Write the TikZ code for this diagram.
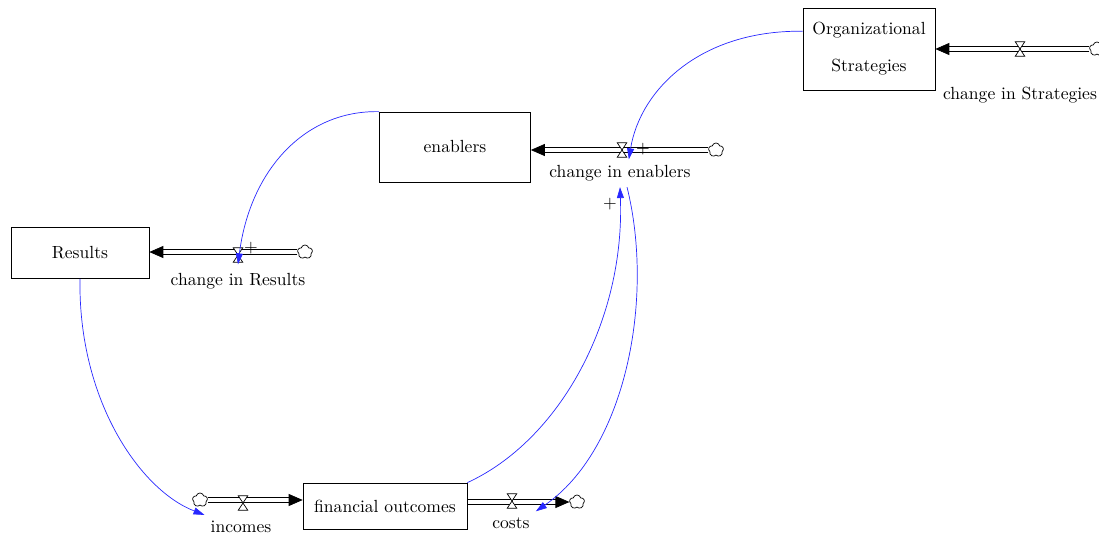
\documentclass[tikz,border=0pt]{standalone}
\usepackage{tikz}
\usetikzlibrary{positioning, shapes.symbols, arrows.meta, calc}
\definecolor{LinkBlue}{RGB}{40, 40, 255}

\begin{document}
\begin{tikzpicture}[
    x=0.02cm, y=-0.02cm,
    stock/.style={rectangle, draw, inner sep=2pt, align=center},
    source/.style={cloud, draw, fill=white, cloud puffs=5, cloud puff arc=150, aspect=1, minimum width=0.3cm, minimum height=0.28cm, inner sep=0pt},
    pipe/.style={draw, double=white, double distance=0.09cm, line width=0.4pt, -{Triangle[length=0.28cm, width=0.24cm]}},
    valve/.style={rectangle, inner sep=0pt, minimum width=0.26cm, minimum height=0.36cm,
      path picture={\filldraw[fill=white, line width=0.4pt]
        ([shift={(1pt,-1pt)}]path picture bounding box.north west) --
        ([shift={(-1pt,-1pt)}]path picture bounding box.north east) --
        ([shift={(1pt,1pt)}]path picture bounding box.south west) --
        ([shift={(-1pt,1pt)}]path picture bounding box.south east) -- cycle;}},
    link/.style={draw=LinkBlue, line width=0.4pt, -{Triangle[length=0.22cm, width=0.14cm]}, LinkBlue}
  ]
    \useasboundingbox (0,0) rectangle (1099,537);

    % Stocks
    \node[stock, minimum width=2.64cm, minimum height=1.64cm] (org) at (869, 49) {Organizational\\[9pt]Strategies};
    \node[stock, minimum width=3.02cm, minimum height=1.4cm] (en) at (455, 147) {enablers};
    \node[stock, minimum width=2.76cm, minimum height=1.02cm] (res) at (80, 253) {Results};
    \node[stock, minimum width=3.28cm, minimum height=0.92cm] (fin) at (385, 506) {financial outcomes};

    % Clouds
    \node[source] (cStr) at (1097, 49) {};
    \node[source] (cEn) at (716, 150) {};
    \node[source] (cRes) at (305, 252) {};
    \node[source] (cInc) at (200, 500) {};
    \node[source] (cCost) at (577, 502) {};

    % Flow pipes
    \draw[pipe] (cStr.west) -- (cStr.west -| org.east);
    \draw[pipe] (cEn.west) -- (cEn.west -| en.east);
    \draw[pipe] (cRes.west) -- (cRes.west -| res.east);
    \draw[pipe] (cInc.east) -- (cInc.east -| fin.west);
    \draw[pipe] ([xshift=0.5pt]fin.east |- cCost.west) -- (cCost.west);

    % Valves
    \node[valve] (vStr) at (1020, 49) {};
    \node[valve] (vEn) at (622, 150) {};
    \node[valve] (vRes) at (238, 255) {};
    \node[valve] (vInc) at (243, 503) {};
    \node[valve] (vCost) at (512, 501) {};

    % Flow names
    \node (lStr) at (1020, 95) {change in Strategies};
    \node (lEn) at (620, 173) {change in enablers};
    \node (lRes) at (238, 281) {change in Results};
    \node (lInc) at (241, 527) {incomes};
    \node (lCost) at (511, 523) {costs};

    % Links
    \draw[link] (org.165) .. controls (700, 30) and (640, 90) .. (vEn.south east);
    \draw[link] (en.north west) .. controls (305, 110) and (250, 170) .. (vRes.south);
    \draw[link] (res.south) .. controls (78, 400) and (140, 490) .. (lInc.north west);
    \draw[link] (fin.north east) .. controls (560, 440) and (625, 320) .. (lEn.south);
    \draw[link] ([xshift=4pt]lEn.south) .. controls (655, 300) and (625, 450) .. (lCost.north east);

    % Polarities
    \node at (643, 149) {+};
    \node at (251, 248) {+};
    \node at (610, 204) {+};
  \end{tikzpicture}
\end{document}
